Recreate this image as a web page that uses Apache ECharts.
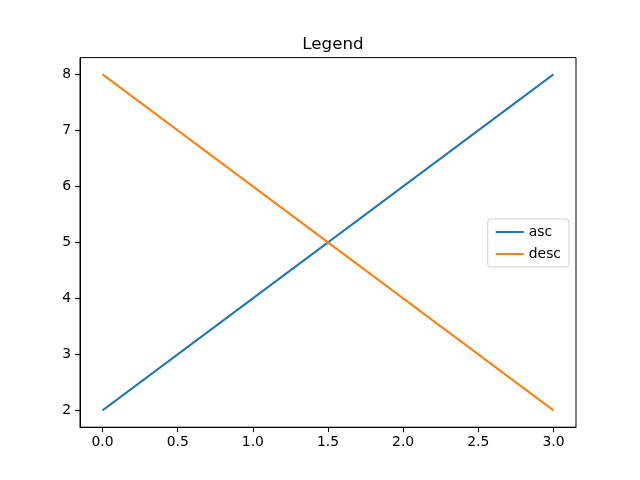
<!DOCTYPE html>
<html><head><meta charset="utf-8">
<script src="https://cdn.jsdelivr.net/npm/echarts@6/dist/echarts.min.js"></script>
<style>html,body{margin:0;padding:0;background:#fff}#c{width:640px;height:480px}</style>
</head><body><div id="c"></div>
<script>
const xValues = [0, 1, 2, 3];
const ascValues = [2, 4, 6, 8];
const descValues = [8, 6, 4, 2];
const xTicks = [0, 0.5, 1, 1.5, 2, 2.5, 3];
const yTicks = [2, 3, 4, 5, 6, 7, 8];
const titleText = 'Legend';
const seriesNames = ['asc', 'desc'];

const font = 'DejaVu Sans';
const chart = echarts.init(document.getElementById('c'), null, {renderer: 'canvas'});
chart.setOption({
  animation: false,
  backgroundColor: '#fff',
  title: {text: titleText, left: 328, textAlign: 'center', top: 31,
    textStyle: {fontFamily: font, fontSize: 16.7, fontWeight: 'normal', color: '#000'}},
  grid: {left: 80, right: 64, top: 57.6, bottom: 52.8, show: true, borderColor: '#000', borderWidth: 1, backgroundColor: 'transparent'},
  legend: {
    orient: 'vertical', right: 71, top: 219,
    data: seriesNames,
    icon: 'rect', itemWidth: 28, itemHeight: 2, itemGap: 8,
    padding: [6, 8, 6, 8],
    borderColor: '#d0d0d0', borderWidth: 1, borderRadius: 3, backgroundColor: 'rgba(255,255,255,0.8)',
    textStyle: {fontFamily: font, fontSize: 13.9, color: '#000'}
  },
  xAxis: {
    type: 'value', min: -0.15, max: 3.15,
    splitLine: {show: false},
    axisLine: {show: true, onZero: false, lineStyle: {color: '#000'}},
    axisTick: {show: true, length: 5, lineStyle: {color: '#000'}, customValues: xTicks},
    axisLabel: {customValues: xTicks, margin: 8, fontFamily: font, fontSize: 13.9, color: '#000',
      formatter: v => Number(v).toFixed(1)}
  },
  yAxis: {
    type: 'value', min: 1.7, max: 8.3,
    splitLine: {show: false},
    axisLine: {show: true, onZero: false, lineStyle: {color: '#000'}},
    axisTick: {show: true, length: 5, lineStyle: {color: '#000'}, customValues: yTicks},
    axisLabel: {customValues: yTicks, margin: 9, fontFamily: font, fontSize: 13.9, color: '#000',
      formatter: v => String(Math.round(v))}
  },
  series: [
    {name: seriesNames[0], type: 'line', data: xValues.map((x, i) => [x, ascValues[i]]),
      showSymbol: false, lineStyle: {color: '#1f77b4', width: 2}, itemStyle: {color: '#1f77b4'}},
    {name: seriesNames[1], type: 'line', data: xValues.map((x, i) => [x, descValues[i]]),
      showSymbol: false, lineStyle: {color: '#ff7f0e', width: 2}, itemStyle: {color: '#ff7f0e'}}
  ]
});
</script></body></html>
